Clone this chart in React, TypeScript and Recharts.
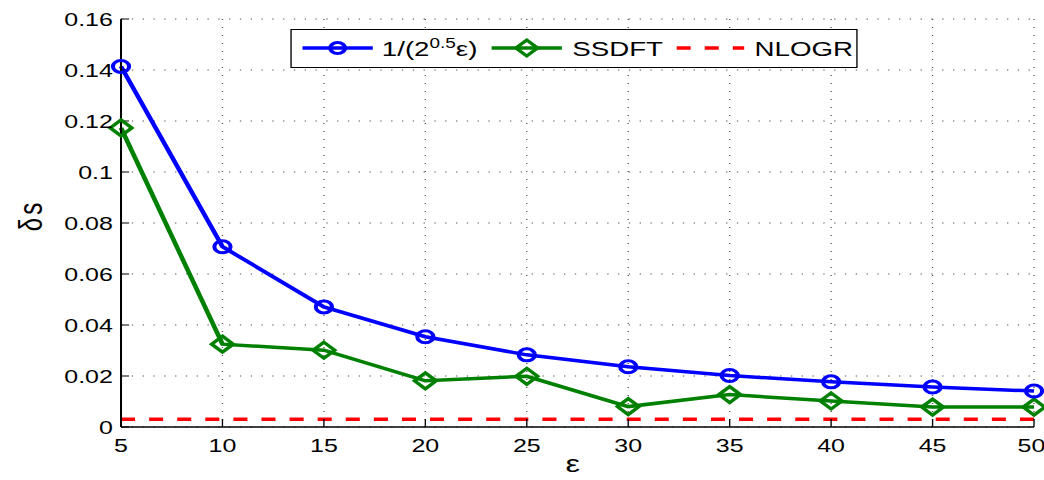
import { LineChart, Line, XAxis, YAxis, CartesianGrid, Legend } from 'recharts';

const epsilons = [5, 10, 15, 20, 25, 30, 35, 40, 45, 50];
const inverseSqrt = [0.1414, 0.0707, 0.0471, 0.0354, 0.0283, 0.0236, 0.0202, 0.0177, 0.0157, 0.0141];
const ssdft = [0.1173, 0.0325, 0.0301, 0.0181, 0.0199, 0.0080, 0.0127, 0.0102, 0.0078, 0.0078];
const nlogr = [0.003, 0.003, 0.003, 0.003, 0.003, 0.003, 0.003, 0.003, 0.003, 0.003];
const yTicks = [0, 0.02, 0.04, 0.06, 0.08, 0.1, 0.12, 0.14, 0.16];

const data = epsilons.map((e, i) => ({
  eps: e,
  inv: inverseSqrt[i],
  ssdft: ssdft[i],
  nlogr: nlogr[i]
}));

// the original figure is stretched sideways, so draw narrow and scale the whole thing
const STRETCH = 1044 / 773;
const FONT = '"Liberation Sans", Arial, sans-serif';
const BLUE = '#0000ff';
const GREEN = '#008000';
const RED = '#ff0000';

const CircleDot = (props: any) => {
  const { cx, cy, index } = props;
  if (cx == null || cy == null) return <g key={`c${index}`} />;
  return <circle key={`c${index}`} cx={cx} cy={cy} r={6} fill="none" stroke={BLUE} strokeWidth={3} />;
};

const DiamondDot = (props: any) => {
  const { cx, cy, index } = props;
  if (cx == null || cy == null) return <g key={`d${index}`} />;
  const s = 8;
  return (
    <polygon
      key={`d${index}`}
      points={`${cx},${cy - s} ${cx + s},${cy} ${cx},${cy + s} ${cx - s},${cy}`}
      fill="none"
      stroke={GREEN}
      strokeWidth={3}
    />
  );
};

const legendText = { position: 'absolute' as const, top: 7, lineHeight: '24px', whiteSpace: 'nowrap' as const };

const LegendBox = () => (
  <div
    style={{
      position: 'relative',
      boxSizing: 'border-box',
      width: 420,
      height: 39,
      border: '1.5px solid #000',
      background: '#fff',
      fontFamily: FONT,
      fontSize: 20.5,
      color: '#000'
    }}
  >
    <svg width={420} height={39} style={{ position: 'absolute', left: -1.5, top: -1.5 }}>
      <line x1={10} y1={19} x2={62} y2={19} stroke={BLUE} strokeWidth={3.5} />
      <circle cx={36} cy={19} r={5.5} fill="none" stroke={BLUE} strokeWidth={3} />
      <line x1={150} y1={19} x2={202} y2={19} stroke={GREEN} strokeWidth={3.5} />
      <polygon points="176,11 184,19 176,27 168,19" fill="none" stroke={GREEN} strokeWidth={3} />
      <line x1={287} y1={19} x2={337} y2={19} stroke={RED} strokeWidth={3.5} strokeDasharray="10.4 10.4" />
    </svg>
    <span style={{ ...legendText, left: 67 }}>
      1/(2<sup style={{ fontSize: 14, verticalAlign: 8, lineHeight: 0 }}>0.5</sup>ε)
    </span>
    <span style={{ ...legendText, left: 208 }}>SSDFT</span>
    <span style={{ ...legendText, left: 343 }}>NLOGR</span>
  </div>
);

const tickStyle = { fill: '#000', fontSize: 18.5, fontFamily: FONT };

export default function App() {
  return (
    <div
      style={{
        position: 'absolute',
        left: 0,
        top: 0,
        width: 773,
        height: 480,
        background: '#fff',
        transform: `scaleX(${STRETCH})`,
        transformOrigin: '0 0'
      }}
    >
      <LineChart width={773} height={480} data={data} margin={{ top: 19, right: 7.4, left: 0, bottom: 0 }}>
        <CartesianGrid stroke="#555" strokeDasharray="1 7" strokeWidth={1} />
        <XAxis
          dataKey="eps"
          type="number"
          domain={[5, 50]}
          ticks={epsilons}
          height={53}
          tick={tickStyle}
          tickSize={-8}
          tickMargin={20}
          stroke="#000"
          tickLine={{ stroke: '#000' }}
          axisLine={{ stroke: '#000', strokeWidth: 1.5 }}
          label={{
            content: () => (
              <text x={424} y={472} textAnchor="middle" fontSize={24} fontFamily={FONT} fill="#000">
                ε
              </text>
            )
          }}
        />
        <XAxis
          xAxisId="top"
          orientation="top"
          dataKey="eps"
          type="number"
          domain={[5, 50]}
          ticks={epsilons}
          height={0}
          tickSize={-8}
          tickFormatter={() => ''}
          stroke="#000"
          axisLine={{ stroke: '#000', strokeWidth: 1.5 }}
        />
        <YAxis
          type="number"
          domain={[0, 0.16]}
          ticks={yTicks}
          width={89.6}
          tick={tickStyle}
          tickSize={-6}
          tickMargin={12}
          stroke="#000"
          tickFormatter={(v: number) => String(v)}
          axisLine={{ stroke: '#000', strokeWidth: 1.5 }}
          label={{
            content: () => (
              <text
                x={31}
                y={217}
                transform="rotate(-90 31 217)"
                textAnchor="middle"
                fontSize={24}
                fontFamily={FONT}
                fill="#000"
              >
                δ<tspan dx={3}>s</tspan>
              </text>
            )
          }}
        />
        <YAxis
          yAxisId="right"
          orientation="right"
          type="number"
          domain={[0, 0.16]}
          ticks={yTicks}
          width={0}
          tickSize={-6}
          tickFormatter={() => ''}
          stroke="#000"
          axisLine={{ stroke: '#000', strokeWidth: 1.5 }}
        />
        <Legend
          layout="horizontal"
          verticalAlign="middle"
          align="center"
          wrapperStyle={{ top: 29, left: 214.7, width: 420, height: 39 }}
          content={() => <LegendBox />}
        />
        <Line
          dataKey="nlogr"
          stroke={RED}
          strokeWidth={3.5}
          strokeDasharray="10.4 10.4"
          dot={false}
          isAnimationActive={false}
        />
        <Line
          dataKey="ssdft"
          stroke={GREEN}
          strokeWidth={3.5}
          dot={DiamondDot}
          isAnimationActive={false}
        />
        <Line
          dataKey="inv"
          stroke={BLUE}
          strokeWidth={3.5}
          dot={CircleDot}
          isAnimationActive={false}
        />
      </LineChart>
    </div>
  );
}
